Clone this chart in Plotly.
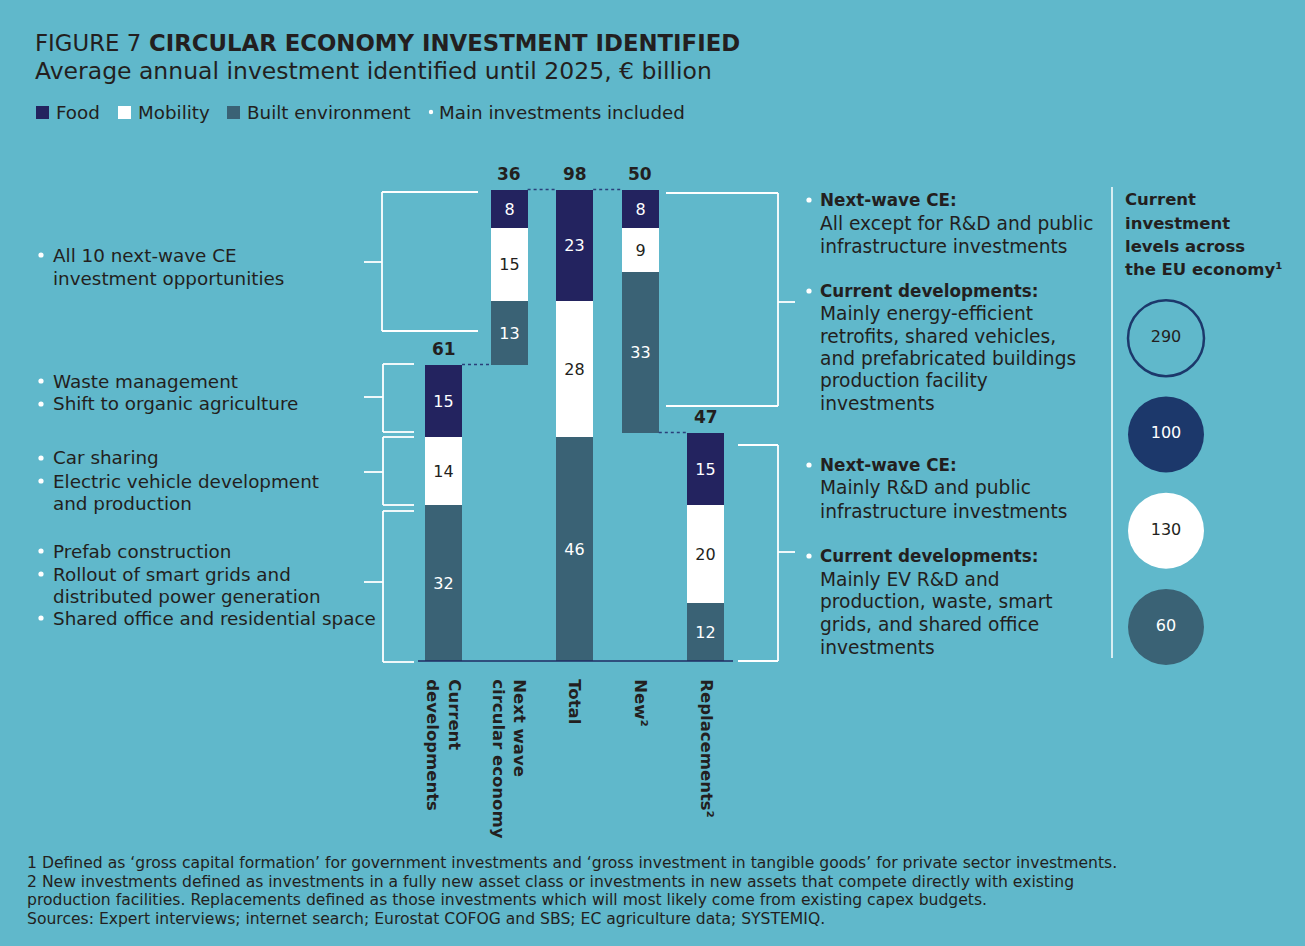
import plotly.graph_objects as go

W, H = 1305, 946
BG = "#60B8CB"
FOOD_C = "#23235F"
MOB_C = "#FFFFFF"
BUILT_C = "#3A6275"
NAVY = "#1C386B"
INK = "#231F20"
FONT = "DejaVu Sans"

# ---- data -------------------------------------------------------------
categories = ["Current<br>developments", "Next wave<br>circular economy", "Total",
              "New²", "Replacements²"]
built_env = [32, 13, 46, 33, 12]
mobility = [14, 15, 28, 9, 20]
food = [15, 8, 23, 8, 15]
total_labels = [61, 36, 98, 50, 47]

eu_level_names = ["All sectors", "Food", "Mobility", "Built environment"]
eu_levels = [290, 100, 130, 60]

# ---- geometry of the drawing area (pixels -> data units) ---------------
PX_PER_Y = 4.86
BASE_PX = 661
PX_PER_X = 65.6
X0_PX = 443.5
y_range = [-(H - BASE_PX) / PX_PER_Y, BASE_PX / PX_PER_Y]
x_range = [-X0_PX / PX_PER_X, (W - X0_PX) / PX_PER_X]
BAR_W = 37 / PX_PER_X

pos = list(range(len(categories)))
stack = [b + m + f for b, m, f in zip(built_env, mobility, food)]
# next wave sits on top of current developments; new hangs from the total
floor = [0, stack[0], 0, stack[2] - stack[3], 0]
mob_base = [fl + b for fl, b in zip(floor, built_env)]
food_base = [mb + m for mb, m in zip(mob_base, mobility)]
tops = [fl + s for fl, s in zip(floor, stack)]

fig = go.Figure()


def add_segment(vals, base, color, text_color, name):
    fig.add_trace(go.Bar(
        x=pos, y=vals, base=base, width=BAR_W, name=name,
        marker=dict(color=color, line=dict(width=0)),
        text=[str(v) for v in vals], textposition="inside",
        insidetextanchor="middle", textangle=0, constraintext="none",
        textfont=dict(family=FONT, size=16, color=text_color),
        insidetextfont=dict(family=FONT, size=16, color=text_color),
        showlegend=False, hoverinfo="skip",
    ))


add_segment(built_env, floor, BUILT_C, "white", "Built environment")
add_segment(mobility, mob_base, MOB_C, INK, "Mobility")
add_segment(food, food_base, FOOD_C, "white", "Food")

# circles: current EU investment levels
fig.add_trace(go.Scatter(
    x=[0] * len(eu_levels), y=eu_level_names, xaxis="x2", yaxis="y2",
    mode="markers+text", text=[str(v) for v in eu_levels],
    textposition="middle center",
    textfont=dict(family=FONT, size=16, color=[INK, "white", INK, "white"]),
    marker=dict(size=76, color=["rgba(0,0,0,0)", NAVY, "white", BUILT_C],
                line=dict(color=[NAVY, NAVY, "white", BUILT_C], width=[2.5, 0, 0, 0])),
    showlegend=False, hoverinfo="skip", cliponaxis=False,
))

ann = []
shapes = []


def px_x(x):
    return x / W


def px_y(y):
    return 1 - y / H


def txt(x, y, s, size=17.5, color=INK, anchor="left", bold=False):
    ann.append(dict(x=px_x(x), y=px_y(y), xref="paper", yref="paper", text=s,
                    showarrow=False, xanchor=anchor, yanchor="middle",
                    font=dict(family=FONT, size=size, color=color,
                              weight="bold" if bold else "normal")))


def line(x0, y0, x1, y1, color="white", width=1.8, dash=None):
    shapes.append(dict(type="line", xref="paper", yref="paper",
                       x0=px_x(x0), y0=px_y(y0), x1=px_x(x1), y1=px_y(y1),
                       line=dict(color=color, width=width, dash=dash)))


def dot(x, y, r=2.6):
    shapes.append(dict(type="circle", xref="paper", yref="paper",
                       x0=px_x(x - r), x1=px_x(x + r), y0=px_y(y + r), y1=px_y(y - r),
                       fillcolor="white", line=dict(width=0)))


def bullet_block(xb, xt, lines, size=18.35, bold_size=None):
    for y, s, has_bullet, bold in lines:
        if has_bullet:
            dot(xb, y)
        txt(xt, y, s, size=(bold_size or size) if bold else size, bold=bold)


# title and legend
txt(33, 43, "FIGURE 7", size=22.8)
txt(147, 43, "CIRCULAR ECONOMY INVESTMENT IDENTIFIED", size=22.8, bold=True)
txt(33, 71, "Average annual investment identified until 2025, € billion", size=23.5)

for x, color, label in [(36, FOOD_C, "Food"), (118, MOB_C, "Mobility"),
                        (227, BUILT_C, "Built environment")]:
    shapes.append(dict(type="rect", xref="paper", yref="paper",
                       x0=px_x(x), x1=px_x(x + 13), y0=px_y(119), y1=px_y(106),
                       fillcolor=color, line=dict(width=0)))
    txt(x + 18, 112, label, size=18.3)
dot(431, 112, r=2.2)
txt(437, 112, "Main investments included", size=18.3)

# left-hand descriptions
bullet_block(41, 51, [
    (255, "All 10 next-wave CE", True, False), (278, "investment opportunities", False, False),
    (381, "Waste management", True, False), (404, "Shift to organic agriculture", True, False),
    (458, "Car sharing", True, False), (481, "Electric vehicle development", True, False),
    (503, "and production", False, False),
    (551, "Prefab construction", True, False), (574, "Rollout of smart grids and", True, False),
    (596, "distributed power generation", False, False),
    (618, "Shared office and residential space", True, False),
])

# right-hand descriptions
bullet_block(809, 818, [
    (200, "Next-wave CE:", True, True), (223, "All except for R&D and public", False, False),
    (246, "infrastructure investments", False, False),
    (291, "Current developments:", True, True), (313, "Mainly energy-efficient", False, False),
    (336, "retrofits, shared vehicles,", False, False),
    (358, "and prefabricated buildings", False, False),
    (380, "production facility", False, False), (403, "investments", False, False),
    (465, "Next-wave CE:", True, True), (488, "Mainly R&D and public", False, False),
    (511, "infrastructure investments", False, False),
    (556, "Current developments:", True, True), (579, "Mainly EV R&D and", False, False),
    (601, "production, waste, smart", False, False),
    (624, "grids, and shared office", False, False),
    (647, "investments", False, False),
], size=18.6, bold_size=16.8)

for y, s in [(200, "Current"), (223, "investment"), (246, "levels across"),
             (269, "the EU economy¹")]:
    txt(1123, y, s, size=16.5, bold=True)
line(1112, 187, 1112, 658, width=1.5)

# footnotes
for y, s in [
    (863, "1 Defined as ‘gross capital formation’ for government investments and ‘gross investment in tangible goods’ for private sector investments."),
    (882, "2 New investments defined as investments in a fully new asset class or investments in new assets that compete directly with existing"),
    (900, "production facilities. Replacements defined as those investments which will most likely come from existing capex budgets."),
    (919, "Sources: Expert interviews; internet search; Eurostat COFOG and SBS; EC agriculture data; SYSTEMIQ."),
]:
    txt(25, y, s, size=15.6)

# brackets on the left
line(382, 192, 382, 331); line(382, 192, 478, 192); line(382, 331, 478, 331)
line(364, 262, 382, 262)
for top, bot, mid in [(364, 432, 397), (437, 505, 472), (511, 662, 582)]:
    line(383, top, 383, bot); line(383, top, 414, top); line(383, bot, 414, bot)
    line(364, mid, 383, mid)

# brackets on the right
line(778, 193, 778, 406); line(666, 193, 778, 193); line(666, 406, 778, 406)
line(778, 302, 795, 302)
line(778, 445, 778, 661); line(738, 445, 778, 445); line(738, 661, 778, 661)
line(778, 552, 795, 552)

# baseline
shapes.append(dict(type="line", xref="paper", yref="y", x0=px_x(418), x1=px_x(733),
                   y0=0, y1=0, line=dict(color="#1F2D63", width=1.5)))

# dashed connectors between consecutive bars
connector_levels = [tops[0], tops[1], tops[2], floor[3]]
for i, yv in enumerate(connector_levels):
    shapes.append(dict(type="line", xref="x", yref="y",
                       x0=pos[i] + BAR_W / 2, x1=pos[i + 1] - BAR_W / 2, y0=yv, y1=yv,
                       line=dict(color="#2A3F7A", width=1.5, dash="3px,3px")))

# totals above the bars
for p, t, lab in zip(pos, tops, total_labels):
    ann.append(dict(x=p, y=t, xref="x", yref="y", text=str(lab),
                    showarrow=False, xanchor="center", yanchor="bottom", yshift=4,
                    font=dict(family=FONT, size=17, color=INK, weight="bold")))

fig.update_layout(
    width=W, height=H, autosize=False,
    margin=dict(l=0, r=0, t=0, b=0),
    paper_bgcolor=BG, plot_bgcolor=BG,
    barmode="overlay", bargap=0,
    xaxis=dict(range=x_range, domain=[0, 1], anchor="free", position=px_y(BASE_PX),
               tickvals=pos, ticktext=categories,
               tickangle=90, ticks="outside", ticklen=14, tickcolor="rgba(0,0,0,0)",
               showgrid=False, zeroline=False, showline=False,
               tickfont=dict(family=FONT, size=16.5, color=INK, weight="bold"),
               fixedrange=True),
    yaxis=dict(range=y_range, domain=[0, 1], showgrid=False, zeroline=False,
               showticklabels=False, showline=False, fixedrange=True),
    xaxis2=dict(domain=[px_x(1120), px_x(1212)], range=[-0.5, 0.5], anchor="y2",
                visible=False, fixedrange=True),
    yaxis2=dict(domain=[px_y(675), px_y(290)], anchor="x2", type="category",
                categoryorder="array", categoryarray=eu_level_names,
                range=[3.5, -0.5], autorange=False, visible=False, fixedrange=True),
    annotations=ann, shapes=shapes,
    font=dict(family=FONT, color=INK),
)

fig.write_html("out.html")
